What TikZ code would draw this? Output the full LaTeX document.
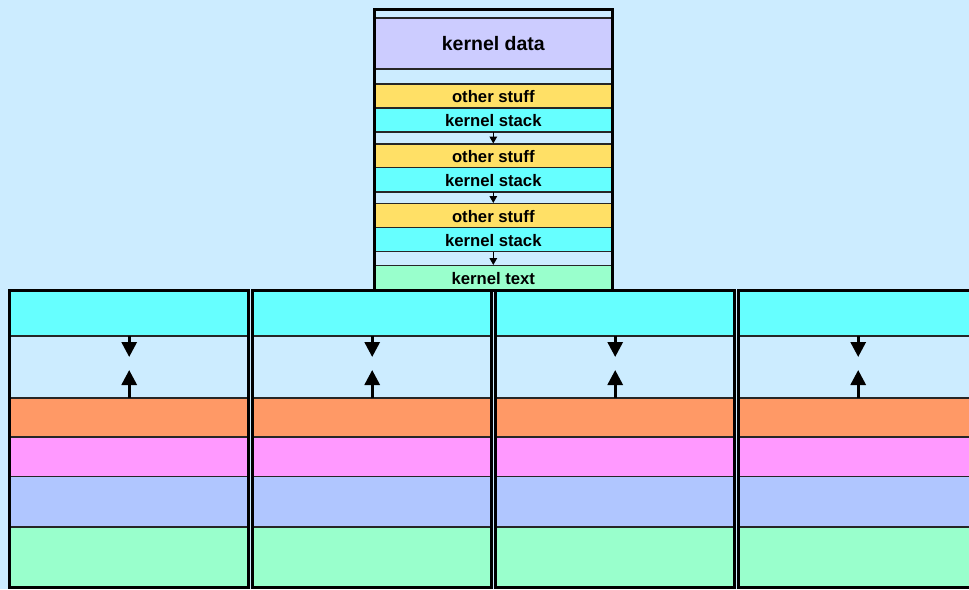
\documentclass[tikz,border=0pt]{standalone}
\usepackage{fontspec}
\setmainfont{Liberation Sans}
\usetikzlibrary{arrows.meta}
\definecolor{bgblue}{RGB}{204,236,255}
\definecolor{kdata}{RGB}{204,204,255}
\definecolor{ostuff}{RGB}{255,224,102}
\definecolor{kstack}{RGB}{102,255,255}
\definecolor{ktext}{RGB}{153,255,204}
\definecolor{uorange}{RGB}{255,153,102}
\definecolor{upink}{RGB}{255,153,255}
\definecolor{ublue}{RGB}{176,198,255}
\newcommand\kband[6][]{\node[band, fill=#5, minimum width=238pt, minimum height={(#4-#3)*1pt}, #1] (#2) at (374.3,#3) {#6};}
\begin{document}
\begin{tikzpicture}[x=1pt,y=-1pt,
  band/.style={draw=black!85, line width=1.1pt, inner sep=0pt, outer sep=0pt, anchor=north west, font=\bfseries\fontsize{16.7}{18}\selectfont},
  lowtext/.style={text height=13.6pt, text depth=0pt},
  frame/.style={draw=black, line width=3pt},
  bigarrow/.style={line width=3pt, -{Triangle[width=15pt,length=15pt]}},
  smallarrow/.style={line width=1.4pt, shorten >=0.5pt, -{Triangle[width=7.5pt,length=7pt]}}]
\fill[bgblue] (0,0) rectangle (969,589);
\useasboundingbox (0,0) rectangle (969,589);
% kernel column
\kband{k0}{9.7}{18}{bgblue}{}
\kband{kd}{18}{69}{kdata}{\fontsize{19.5}{21}\selectfont kernel data}
\kband{k1}{69}{84}{bgblue}{}
\kband[lowtext]{os1}{84}{108}{ostuff}{other stuff}
\kband[lowtext]{ks1}{108}{132}{kstack}{kernel stack}
\kband{g1}{132}{144}{bgblue}{}
\kband[lowtext]{os2}{144}{167.5}{ostuff}{other stuff}
\kband[lowtext]{ks2}{167.5}{192}{kstack}{kernel stack}
\kband{g2}{192}{203.5}{bgblue}{}
\kband[lowtext]{os3}{203.5}{227.5}{ostuff}{other stuff}
\kband[lowtext]{ks3}{227.5}{251.5}{kstack}{kernel stack}
\kband{g3}{251.5}{265.5}{bgblue}{}
\kband[lowtext]{kt}{265.5}{290.5}{ktext}{kernel text}
\draw[smallarrow] (ks1.south) -- (os2.north);
\draw[smallarrow] (ks2.south) -- (os3.north);
\draw[smallarrow] (ks3.south) -- (kt.north);
\draw[frame] (374.3,9.7) rectangle (612.3,290.5);
% user boxes
\foreach \i in {0,...,3}{
  \pgfmathsetmacro\xl{9.7+243*\i}
  \node[band, fill=kstack, minimum width=239pt, minimum height=45.5pt] (uc\i) at (\xl,290.5) {};
  \node[band, fill=bgblue, minimum width=239pt, minimum height=62pt] (ug\i) at (\xl,336) {};
  \node[band, fill=uorange, minimum width=239pt, minimum height=39pt] (uo\i) at (\xl,398) {};
  \node[band, fill=upink, minimum width=239pt, minimum height=39.5pt] (up\i) at (\xl,437) {};
  \node[band, fill=ublue, minimum width=239pt, minimum height=50.5pt] (ub\i) at (\xl,476.5) {};
  \node[band, fill=ktext, minimum width=239pt, minimum height=60.5pt] (ut\i) at (\xl,527) {};
  \coordinate (da\i) at ([yshift=-21pt]uc\i.south);
  \coordinate (ua\i) at ([yshift=28pt]uo\i.north);
  \draw[bigarrow] (uc\i.south) -- (da\i);
  \draw[bigarrow] (uo\i.north) -- (ua\i);
  \draw[frame] (\xl,290.5) rectangle ++(239,297);
}
\end{tikzpicture}
\end{document}
